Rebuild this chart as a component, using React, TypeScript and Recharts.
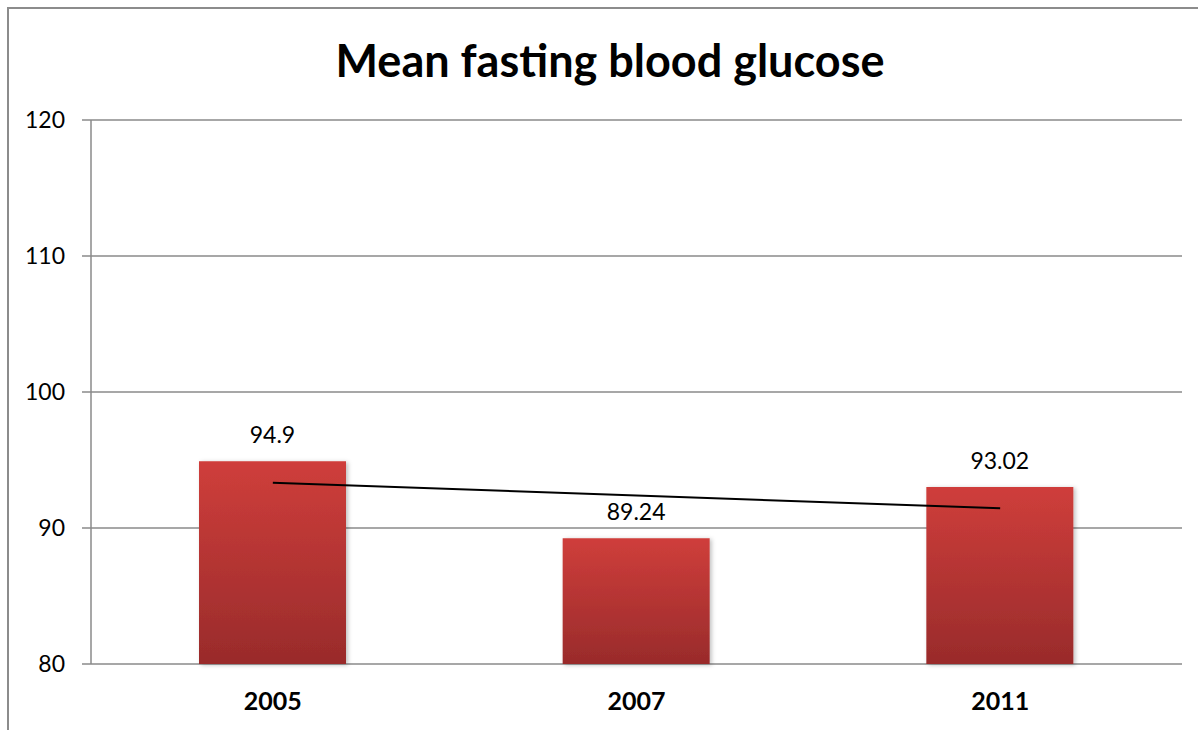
import {
  Bar,
  CartesianGrid,
  ComposedChart,
  LabelList,
  Line,
  XAxis,
  YAxis
} from "recharts";

const years = ["2005", "2007", "2011"];
const glucose = [94.9, 89.24, 93.02];
// linear trendline at each category centre
const trend = [93.33, 92.39, 91.45];
const yTicks = [80, 90, 100, 110, 120];
const boundaryTicks = [0, 1, 2, 3];

const data = years.map((year, i) => ({ year, glucose: glucose[i], trend: trend[i] }));

const axisGray = "#8a8a8a";
const font = "Lato, 'Open Sans', sans-serif";

export default function App() {
  return (
    <div style={{ position: "absolute", left: 0, top: 0, width: 1198, height: 730, overflow: "hidden", background: "#fff" }}>
      <div
        style={{
          position: "absolute",
          left: 7,
          top: 7,
          width: 1300,
          height: 900,
          border: "2px solid #8c8c8c",
          boxSizing: "border-box"
        }}
      />
      <div
        style={{
          position: "absolute",
          left: 0,
          top: 30,
          width: 1220,
          textAlign: "center",
          fontFamily: font,
          fontWeight: 700,
          fontSize: 45,
          lineHeight: "60px",
          color: "#000"
        }}
      >
        Mean fasting blood glucose
      </div>
      <div style={{ position: "absolute", left: 0, top: 0 }}>
        <ComposedChart
          width={1198}
          height={730}
          data={data}
          margin={{ top: 120, right: 16, bottom: 0, left: 31 }}
        >
          <defs>
            <linearGradient id="barFill" x1="0" y1="0" x2="0" y2="1">
              <stop offset="0%" stopColor="#cf3e3b" />
              <stop offset="100%" stopColor="#992b2b" />
            </linearGradient>
            <filter id="barShadow" x="-10%" y="-10%" width="130%" height="120%">
              <feDropShadow dx="2" dy="1" stdDeviation="2" floodColor="#000" floodOpacity="0.25" />
            </filter>
          </defs>
          <CartesianGrid vertical={false} stroke={axisGray} strokeWidth={1.5} />
          <XAxis
            xAxisId="bounds"
            type="number"
            domain={[0, 3]}
            ticks={boundaryTicks}
            tick={false}
            height={0}
            axisLine={{ stroke: axisGray, strokeWidth: 1.5 }}
            tickLine={{ stroke: axisGray, strokeWidth: 1.5 }}
            tickSize={8}
          />
          <XAxis
            xAxisId="cat"
            dataKey="year"
            axisLine={false}
            tickLine={false}
            tickSize={0}
            tickMargin={28}
            height={66}
            tick={{ fontFamily: font, fontSize: 25, fontWeight: 700, fill: "#000" }}
          />
          <YAxis
            domain={[80, 120]}
            ticks={yTicks}
            width={60}
            axisLine={{ stroke: axisGray, strokeWidth: 1.5 }}
            tickLine={{ stroke: axisGray, strokeWidth: 1.5 }}
            tickSize={9}
            tickMargin={17}
            tick={{ fontFamily: font, fontSize: 23, fill: "#000" }}
          />
          <Bar
            xAxisId="cat"
            dataKey="glucose"
            barSize={147}
            fill="url(#barFill)"
            style={{ filter: "url(#barShadow)" }}
            isAnimationActive={false}
          >
            <LabelList
              dataKey="glucose"
              position="top"
              offset={18}
              style={{ fontFamily: font, fontSize: 23, fill: "#000" }}
            />
          </Bar>
          <Line
            xAxisId="cat"
            dataKey="trend"
            stroke="#000"
            strokeWidth={2}
            dot={false}
            activeDot={false}
            isAnimationActive={false}
          />
        </ComposedChart>
      </div>
    </div>
  );
}
